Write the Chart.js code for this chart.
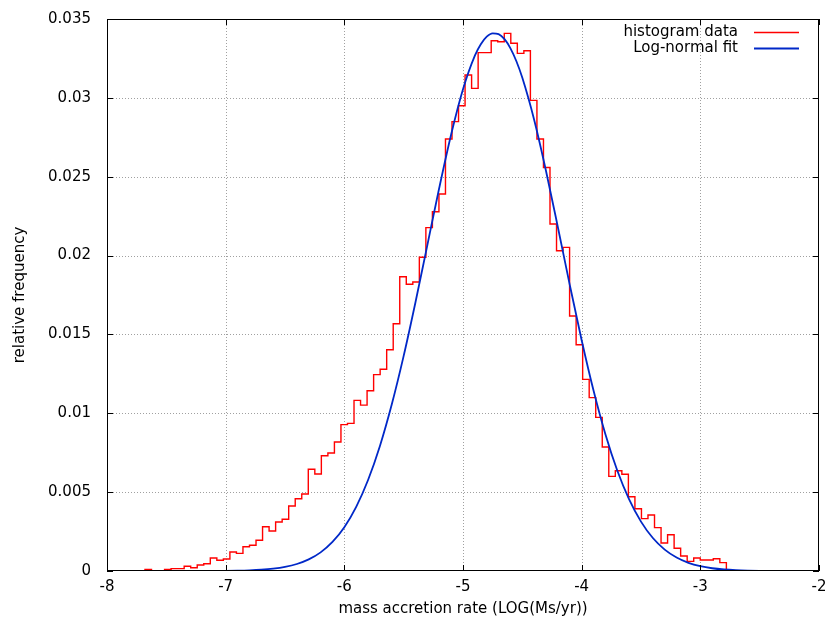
<!DOCTYPE html>
<html>
<head>
<meta charset="utf-8">
<title>Mass accretion rate distribution</title>
<script src="https://cdn.jsdelivr.net/npm/chart.js@4.4.1/dist/chart.umd.min.js"></script>
<style>
  html, body { margin: 0; padding: 0; background: #fff; }
  #chart { display: block; }
</style>
</head>
<body>
<canvas id="chart" width="825" height="622"></canvas>
<script>
// Histogram: equal-width bins in log10(Mdot) starting at binStart
const binStart = -7.68;
const binWidth = 0.05505;
const histValues = [
  0.0001, 0, 0, 0.0001, 0.00015, 0.00015, 0.0003, 0.00021, 0.00038, 0.00046,
  0.00082, 0.00068, 0.00076, 0.0012, 0.00112, 0.00154, 0.00163, 0.00195, 0.00281, 0.00254,
  0.00311, 0.00328, 0.00412, 0.00458, 0.00488, 0.00645, 0.00615, 0.00731, 0.00748, 0.00818,
  0.00928, 0.00936, 0.01082, 0.01052, 0.01143, 0.01245, 0.01279, 0.01403, 0.01568, 0.01866,
  0.01818, 0.01832, 0.01989, 0.02177, 0.02278, 0.0239, 0.02739, 0.02849, 0.0295, 0.03145,
  0.0306, 0.03287, 0.03287, 0.03362, 0.03356, 0.03409, 0.03346, 0.03282, 0.03299, 0.02984,
  0.02739, 0.02558, 0.022, 0.02031, 0.02052, 0.01617, 0.01435, 0.01215, 0.01099, 0.00974,
  0.00786, 0.006, 0.00636, 0.00613, 0.00471, 0.00395, 0.00332, 0.00355, 0.00275, 0.00178,
  0.0023, 0.00144, 0.00095, 0.00061, 0.00082, 0.0007, 0.0007, 0.00078, 0.00053
];

// Fitted curve, sampled along the axis
const fitX = [
  -8, -7.5, -7.2, -7.1, -7.0, -6.9, -6.8, -6.7, -6.6, -6.5, -6.4, -6.3, -6.2, -6.1,
  -6.0, -5.9, -5.8, -5.7, -5.6, -5.5, -5.4, -5.3, -5.2, -5.1, -5.0, -4.9, -4.85, -4.8,
  -4.75, -4.7, -4.65, -4.6, -4.55, -4.5, -4.4, -4.3, -4.2, -4.1, -4.0, -3.9, -3.8, -3.7,
  -3.6, -3.5, -3.4, -3.3, -3.2, -3.1, -3.0, -2.9, -2.8, -2.7, -2.6, -2.5, -2.4, -2.2, -2.0
];
const fitY = [
  0, 0, 0.000003, 0.000005, 0.000011, 0.000022, 0.000043, 0.000081, 0.000147, 0.000259,
  0.000444, 0.000736, 0.001182, 0.001843, 0.00278, 0.00407, 0.00577, 0.00793, 0.01057,
  0.01364, 0.01706, 0.02068, 0.0243, 0.02768, 0.03055, 0.03268, 0.0334, 0.03388, 0.03409,
  0.03404, 0.03372, 0.03314, 0.03232, 0.03127, 0.0286, 0.02535, 0.02178, 0.01813, 0.01463,
  0.01144, 0.00867, 0.00637, 0.00454, 0.00313, 0.00209, 0.001355, 0.000851, 0.000518,
  0.000306, 0.000175, 0.000097, 0.000052, 0.000027, 0.000014, 0.000007, 0.000001, 0
];

const xTicks = [-8, -7, -6, -5, -4, -3, -2];
const yTicks = [0, 0.005, 0.01, 0.015, 0.02, 0.025, 0.03, 0.035];

const histColor = '#ff0000';
const fitColor = '#0028c8';

// step outline: rise at the first edge, drop after the last bin
const histPoints = [{ x: binStart, y: 0 }];
histValues.forEach((v, i) => histPoints.push({ x: binStart + i * binWidth, y: v }));
histPoints.push({ x: binStart + histValues.length * binWidth, y: 0 });

const fitPoints = fitX.map((x, i) => ({ x: x, y: fitY[i] }));

Chart.defaults.font.family = "'DejaVu Sans', sans-serif";
Chart.defaults.font.size = 15;
Chart.defaults.color = '#000';

// gnuplot-like dotted grid, boxed border with inward ticks and key
const gnuplotFrame = {
  id: 'gnuplotFrame',
  beforeDatasetsDraw(chart) {
    const { ctx, chartArea: a, scales } = chart;
    ctx.save();
    ctx.strokeStyle = '#a0a0a0';
    ctx.lineWidth = 1;
    ctx.setLineDash([1, 2]);
    xTicks.slice(1, -1).forEach(v => {
      const px = Math.round(scales.x.getPixelForValue(v)) + 0.5;
      ctx.beginPath();
      ctx.moveTo(px, a.top);
      ctx.lineTo(px, a.bottom);
      ctx.stroke();
    });
    yTicks.slice(1, -1).forEach(v => {
      const py = Math.round(scales.y.getPixelForValue(v)) + 0.5;
      ctx.beginPath();
      ctx.moveTo(a.left, py);
      ctx.lineTo(a.right, py);
      ctx.stroke();
    });
    ctx.restore();
  },
  afterDatasetsDraw(chart) {
    const { ctx, chartArea: a, scales } = chart;
    const tick = 6;
    ctx.save();
    ctx.strokeStyle = '#000';
    ctx.lineWidth = 1;
    ctx.setLineDash([]);
    ctx.strokeRect(a.left + 0.5, a.top + 0.5, a.right - a.left - 1, a.bottom - a.top - 1);
    ctx.beginPath();
    xTicks.forEach(v => {
      const px = Math.round(scales.x.getPixelForValue(v)) + 0.5;
      ctx.moveTo(px, a.bottom);
      ctx.lineTo(px, a.bottom - tick);
      ctx.moveTo(px, a.top);
      ctx.lineTo(px, a.top + tick);
    });
    yTicks.forEach(v => {
      const py = Math.round(scales.y.getPixelForValue(v)) + 0.5;
      ctx.moveTo(a.left, py);
      ctx.lineTo(a.left + tick, py);
      ctx.moveTo(a.right, py);
      ctx.lineTo(a.right - tick, py);
    });
    ctx.stroke();

    // key in the top right corner: text first, line sample after it
    const keyTextRight = a.right - 81;
    const sampleStart = a.right - 65;
    const sampleEnd = a.right - 20;
    ctx.font = "15px 'DejaVu Sans', sans-serif";
    ctx.textAlign = 'right';
    ctx.textBaseline = 'middle';
    ctx.fillStyle = '#000';
    chart.data.datasets.forEach((ds, i) => {
      const y = a.top + 13.5 + i * 16;
      ctx.fillText(ds.label, keyTextRight, y);
      ctx.strokeStyle = ds.borderColor;
      ctx.lineWidth = ds.borderWidth;
      ctx.beginPath();
      ctx.moveTo(sampleStart, y);
      ctx.lineTo(sampleEnd, y);
      ctx.stroke();
    });
    ctx.restore();
  }
};

new Chart(document.getElementById('chart'), {
  type: 'line',
  data: {
    datasets: [
      {
        label: 'histogram data',
        data: histPoints,
        borderColor: histColor,
        borderWidth: 1.4,
        stepped: 'before',
        pointRadius: 0,
        fill: false,
        order: 2
      },
      {
        label: 'Log-normal fit',
        data: fitPoints,
        borderColor: fitColor,
        borderWidth: 1.8,
        cubicInterpolationMode: 'monotone',
        pointRadius: 0,
        fill: false,
        order: 1
      }
    ]
  },
  options: {
    responsive: false,
    animation: false,
    layout: { padding: { top: 19, right: 6, left: 0, bottom: 0 } },
    plugins: {
      legend: { display: false },
      tooltip: { enabled: false }
    },
    scales: {
      x: {
        type: 'linear',
        min: -8,
        max: -2,
        grid: { display: false, drawTicks: false },
        border: { display: false },
        afterBuildTicks: scale => { scale.ticks = xTicks.map(v => ({ value: v })); },
        ticks: { padding: 7, maxRotation: 0, callback: v => String(v) },
        title: {
          display: true,
          text: 'mass accretion rate (LOG(Ms/yr))',
          padding: { top: 0, bottom: 4 }
        },
        afterFit: scale => {
          scale.height = 51;
          scale.paddingLeft = 0;
          scale.paddingRight = 0;
        }
      },
      y: {
        type: 'linear',
        min: 0,
        max: 0.035,
        grid: { display: false, drawTicks: false },
        border: { display: false },
        afterBuildTicks: scale => { scale.ticks = yTicks.map(v => ({ value: v })); },
        ticks: { padding: 16, callback: v => String(+v.toFixed(3)) },
        title: {
          display: true,
          text: 'relative frequency',
          padding: { top: 11, bottom: 0 }
        },
        afterFit: scale => {
          scale.width = 107;
          scale.paddingTop = 0;
          scale.paddingBottom = 0;
        }
      }
    }
  },
  plugins: [gnuplotFrame]
});
</script>
</body>
</html>
